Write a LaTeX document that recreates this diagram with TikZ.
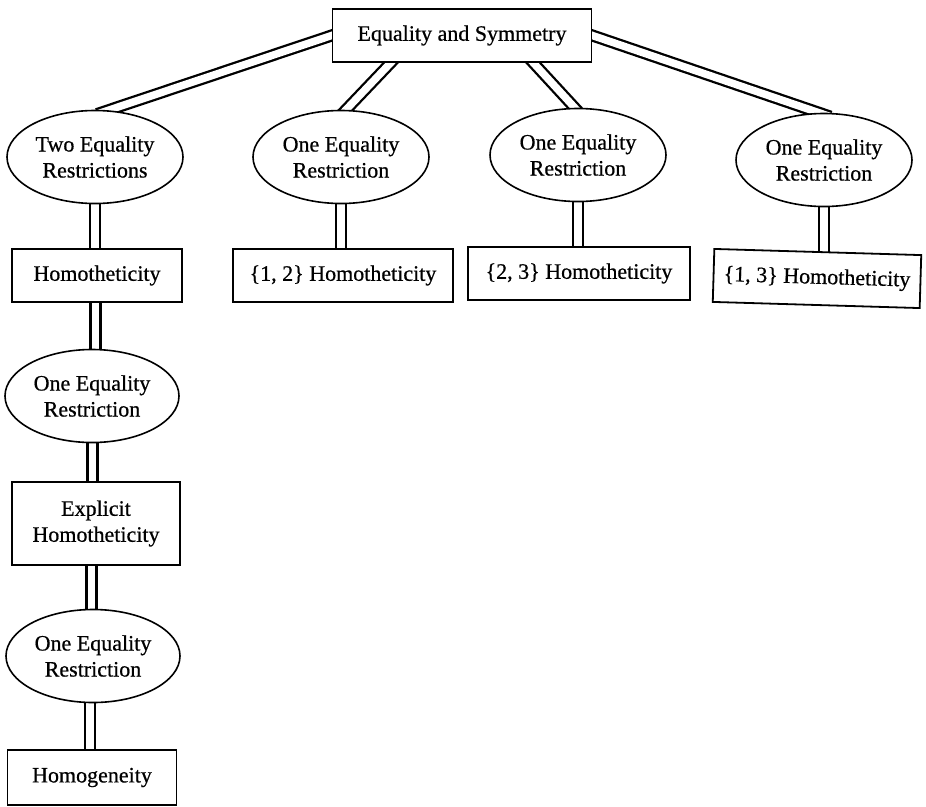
\documentclass[tikz,border=0pt]{standalone}
\usepackage{fontspec}
\setmainfont{Liberation Serif}[FakeBold=0.6]
\usetikzlibrary{backgrounds,shapes.geometric}
\begin{document}
\begin{tikzpicture}[x=1pt,y=-1pt,
  every node/.style={font=\fontsize{22}{26}\selectfont, align=center, inner sep=0pt},
  boxnode/.style={draw, line width=1.8pt, fill=white, rectangle},
  ovalnode/.style={draw, line width=1.6pt, fill=white, ellipse,
    minimum width=176pt, minimum height=93pt},
  link/.style={double, double distance=7.5pt, line width=2.3pt,
    shorten <=-6pt, shorten >=-12pt}]
\useasboundingbox (0,0) rectangle (926,806);

% root
\node[boxnode, minimum width=259pt, minimum height=53pt] (top) at (462,35.5) {Equality and Symmetry};

% first level restrictions
\node[ovalnode] (e1) at (95,157) {Two Equality\\Restrictions};
\node[ovalnode] (e2) at (341,157) {One Equality\\Restriction};
\node[ovalnode] (e3) at (578,155) {One Equality\\Restriction};
\node[ovalnode] (e4) at (824,160) {One Equality\\Restriction};

% homotheticity boxes
\node[boxnode, minimum width=170pt, minimum height=53pt] (h1) at (97,275.5) {Homotheticity};
\node[boxnode, minimum width=220pt, minimum height=53pt] (b12) at (343,275.5) {\{1, 2\} Homotheticity};
\node[boxnode, minimum width=222pt, minimum height=53pt] (b23) at (579,273.5) {\{2, 3\} Homotheticity};
\node[boxnode, minimum width=207pt, minimum height=53pt, rotate=-1.7] (b13) at (817,278.5) {\{1, 3\} Homotheticity};

% left chain
\node[ovalnode, minimum width=174pt] (e5) at (92,396) {One Equality\\Restriction};
\node[boxnode, minimum width=168pt, minimum height=83pt] (x1) at (96,523.5) {Explicit\\Homotheticity};
\node[ovalnode, minimum width=174pt] (e6) at (93,656) {One Equality\\Restriction};
\node[boxnode, minimum width=169pt, minimum height=55pt] (g1) at (92,777.5) {Homogeneity};

% double connectors, tucked under the filled nodes at both ends
\begin{scope}[on background layer]
  \draw[link] (top.west) -- (e1.74);
  \draw[link] (top.201.7) -- (e2.84);
  \draw[link] (top.-21.7) -- (e3.94);
  \draw[link] (top.east) -- (e4.96);
  \draw[link] (e1.south) -- (e1.south |- h1.north);
  \draw[link] ([xshift=-1.5pt]h1.south) -- ([xshift=-1.5pt]h1.south |- e5.north);
  \draw[link] ([xshift=0.5pt]e5.south) -- ([xshift=0.5pt]e5.south |- x1.north);
  \draw[link] ([xshift=-4.5pt]x1.south) -- ([xshift=-4.5pt]x1.south |- e6.north);
  \draw[link] ([xshift=-3pt]e6.south) -- ([xshift=-3pt]e6.south |- g1.north);
  \draw[link] (e2.south) -- (e2.south |- b12.north);
  \draw[link] (e3.south) -- (e3.south |- b23.north);
  \draw[link] (e4.south) -- ([yshift=2pt]e4.south |- b13.north);
\end{scope}
\end{tikzpicture}
\end{document}
